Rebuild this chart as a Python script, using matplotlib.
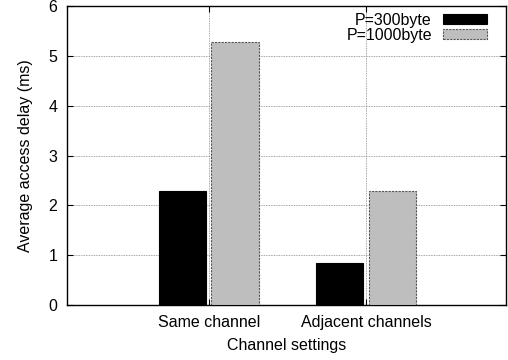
import numpy as np
import matplotlib
matplotlib.use("Agg")
import matplotlib.pyplot as plt

categories = ["Same channel", "Adjacent channels"]
delay_300 = [2.28, 0.84]
delay_1000 = [5.27, 2.29]
series_labels = ["P=300byte", "P=1000byte"]

plt.rcParams['font.family'] = ['Liberation Sans', 'DejaVu Sans']
plt.rcParams['font.size'] = 11.5

fig = plt.figure(figsize=(5.08, 3.6), dpi=100)
ax = fig.add_axes([0.132, 0.153, 0.864, 0.830])

ind = np.arange(len(categories))
w = 0.3
ax.bar(ind - 0.167, delay_300, w, color='black', edgecolor='black',
       linewidth=0.8, label=series_labels[0], zorder=3)
ax.bar(ind + 0.167, delay_1000, w, color='#bebebe', edgecolor='#555555',
       linewidth=0.8, linestyle=(0, (2, 1)), label=series_labels[1], zorder=3)

ax.set_xlim(-0.9, 1.89)
ax.set_ylim(0, 6)
ax.set_xticks(ind)
ax.set_xticklabels(categories)
ax.set_yticks(range(0, 7))
ax.tick_params(direction='in', top=True, right=True, length=4)
ax.tick_params(axis='x', pad=7)
ax.tick_params(axis='y', pad=7)
ax.grid(True, color='#888888', linestyle=(0, (1, 1)), linewidth=0.6, zorder=0)
ax.set_axisbelow(True)
for s in ax.spines.values():
    s.set_linewidth(1.0)

ax.set_xlabel("Channel settings", labelpad=6)
ax.set_ylabel("Average access delay (ms)", labelpad=11)

ax.legend(loc='upper right', bbox_to_anchor=(0.957, 0.978), frameon=False,
          markerfirst=False, handlelength=2.75, handleheight=0.55,
          borderaxespad=0, borderpad=0, labelspacing=0.0, handletextpad=0.7)

fig.savefig("out.png", dpi=100)
